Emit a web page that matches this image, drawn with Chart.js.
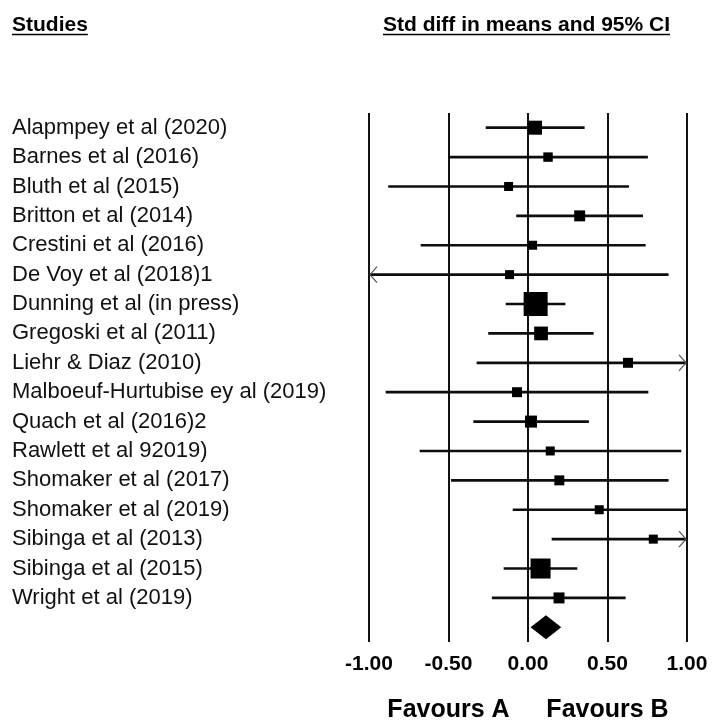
<!DOCTYPE html>
<html>
<head>
<meta charset="utf-8">
<script src="https://cdn.jsdelivr.net/npm/chart.js@4.4.1/dist/chart.umd.min.js"></script>
<style>
  html, body { margin: 0; padding: 0; background: #ffffff; }
  #wrap { width: 713px; height: 720px; position: relative; }
</style>
</head>
<body>
<div id="wrap"><canvas id="forest" width="713" height="720"></canvas></div>
<script>
// Study names, one row each
const studies = [
  'Alapmpey et al (2020)',
  'Barnes et al (2016)',
  'Bluth et al (2015)',
  'Britton et al (2014)',
  'Crestini et al (2016)',
  'De Voy et al (2018)1',
  'Dunning et al (in press)',
  'Gregoski et al (2011)',
  'Liehr & Diaz (2010)',
  'Malboeuf-Hurtubise ey al (2019)',
  'Quach et al (2016)2',
  'Rawlett et al 92019)',
  'Shomaker et al (2017)',
  'Shomaker et al (2019)',
  'Sibinga et al (2013)',
  'Sibinga et al (2015)',
  'Wright et al (2019)'
];

// Standardised difference in means with its 95% confidence limits
const effect = [0.044, 0.126, -0.122, 0.325, 0.029, -0.116, 0.048, 0.082, 0.629, -0.069, 0.019, 0.140, 0.197, 0.448, 0.788, 0.079, 0.195];
const lower  = [-0.264, -0.497, -0.877, -0.072, -0.673, -1.114, -0.138, -0.248, -0.321, -0.893, -0.342, -0.679, -0.482, -0.094, 0.151, -0.151, -0.225];
const upper  = [0.354, 0.752, 0.633, 0.721, 0.738, 0.882, 0.233, 0.411, 1.579, 0.755, 0.381, 0.962, 0.882, 0.995, 1.425, 0.308, 0.612];

// Relative weight of each study (%), shown as the area of its square
const weights = [7.5, 3.4, 3.1, 4.6, 3.1, 3.1, 22.0, 7.2, 3.8, 3.8, 5.5, 3.1, 3.8, 3.1, 3.1, 15.3, 4.6];

// Pooled estimate: lower limit, point estimate, upper limit
const pooled = [0.016, 0.113, 0.209];

// Axis ticks and the captions under the axis
const xTicks = [-1.0, -0.5, 0.0, 0.5, 1.0];
const favourLabels = ['Favours A', 'Favours B'];
const favourPositions = [-0.5, 0.5];

const rowLabels = studies.concat(['']);   // last row holds the pooled diamond
const pooledRow = studies.length;

const sansFont = "'Liberation Sans', Arial, Helvetica, sans-serif";
const ink = '#0d0d0d';

// Square side in px grows with the square root of the weight
const sidePx = w => Math.sqrt(w * 26.2);
const rectRadius = w => sidePx(w) / (2 * Math.SQRT1_2);

// Column headings, arrowheads for clipped intervals, pooled diamond, captions
const forestDecor = {
  id: 'forestDecor',
  afterDatasetsDraw(chart) {
    const ctx = chart.ctx;
    const xs = chart.scales.x;
    const ys = chart.scales.y;
    const area = chart.chartArea;

    // arrowheads where a confidence interval runs past the axis
    ctx.save();
    ctx.strokeStyle = '#555';
    ctx.lineWidth = 1.2;
    studies.forEach((s, i) => {
      const y = ys.getPixelForValue(i);
      if (lower[i] < xs.min) {
        const x = area.left;
        ctx.beginPath();
        ctx.moveTo(x + 8, y - 8);
        ctx.lineTo(x + 1, y);
        ctx.lineTo(x + 8, y + 8);
        ctx.stroke();
      }
      if (upper[i] > xs.max) {
        const x = area.right;
        ctx.beginPath();
        ctx.moveTo(x - 8, y - 8);
        ctx.lineTo(x - 1, y);
        ctx.lineTo(x - 8, y + 8);
        ctx.stroke();
      }
    });
    ctx.restore();

    // pooled estimate diamond
    const yp = ys.getPixelForValue(pooledRow);
    const xl = xs.getPixelForValue(pooled[0]);
    const xm = xs.getPixelForValue(pooled[1]);
    const xr = xs.getPixelForValue(pooled[2]);
    ctx.save();
    ctx.fillStyle = '#000';
    ctx.beginPath();
    ctx.moveTo(xl, yp);
    ctx.lineTo(xm, yp - 12);
    ctx.lineTo(xr, yp);
    ctx.lineTo(xm, yp + 12);
    ctx.closePath();
    ctx.fill();
    ctx.restore();
  },
  afterDraw(chart) {
    const ctx = chart.ctx;
    const xs = chart.scales.x;
    ctx.save();
    ctx.fillStyle = '#000';
    ctx.strokeStyle = '#000';
    ctx.textBaseline = 'alphabetic';

    // underlined column headings
    ctx.font = 'bold 21px ' + sansFont;
    ctx.textAlign = 'left';
    const heads = [['Studies', 12], ['Std diff in means and 95% CI', 383]];
    heads.forEach(([t, x]) => {
      ctx.fillText(t, x, 30.5);
      const w = ctx.measureText(t).width;
      ctx.lineWidth = 1.5;
      ctx.beginPath();
      ctx.moveTo(x, 34.5);
      ctx.lineTo(x + w, 34.5);
      ctx.stroke();
    });

    // captions under the axis
    ctx.font = 'bold 25px ' + sansFont;
    ctx.textAlign = 'center';
    favourLabels.forEach((t, i) => {
      ctx.fillText(t, xs.getPixelForValue(favourPositions[i]), 716.5);
    });
    ctx.restore();
  }
};

new Chart(document.getElementById('forest'), {
  type: 'bar',
  data: {
    labels: rowLabels,
    datasets: [
      {
        type: 'scatter',
        label: 'Std diff in means',
        data: effect.map((e, i) => ({ x: e, y: studies[i] })),
        pointStyle: 'rect',
        pointRadius: weights.map(rectRadius),
        pointHoverRadius: weights.map(rectRadius),
        backgroundColor: '#000',
        borderWidth: 0,
        showLine: false,
        order: 0
      },
      {
        type: 'bar',
        label: '95% CI',
        indexAxis: 'y',
        data: studies.map((s, i) => [lower[i], upper[i]]),
        backgroundColor: ink,
        borderWidth: 0,
        barThickness: 2,
        order: 1
      }
    ]
  },
  options: {
    responsive: false,
    animation: false,
    indexAxis: 'y',
    layout: { padding: { left: 12, top: 113, right: 26, bottom: 0 } },
    plugins: {
      legend: { display: false },
      tooltip: { enabled: false },
      title: { display: false }
    },
    scales: {
      x: {
        type: 'linear',
        position: 'bottom',
        min: -1,
        max: 1,
        afterBuildTicks(scale) { scale.ticks = xTicks.map(v => ({ value: v })); },
        afterFit(scale) {
          scale.height = 78;
          scale.paddingLeft = 0;
          scale.paddingRight = 0;
        },
        grid: { color: '#111', lineWidth: 2, drawTicks: false },
        border: { display: false },
        ticks: {
          callback: v => Number(v).toFixed(2),
          color: '#000',
          font: { family: sansFont, size: 21, weight: 'bold' },
          padding: 10,
          maxRotation: 0
        }
      },
      y: {
        type: 'category',
        position: 'left',
        offset: true,
        afterFit(scale) { scale.width = 357; },
        grid: { display: false, drawTicks: false },
        border: { display: false },
        ticks: {
          crossAlign: 'far',
          color: '#111',
          padding: 0,
          autoSkip: false,
          font: { family: sansFont, size: 22 }
        }
      }
    }
  },
  plugins: [forestDecor]
});
</script>
</body>
</html>
